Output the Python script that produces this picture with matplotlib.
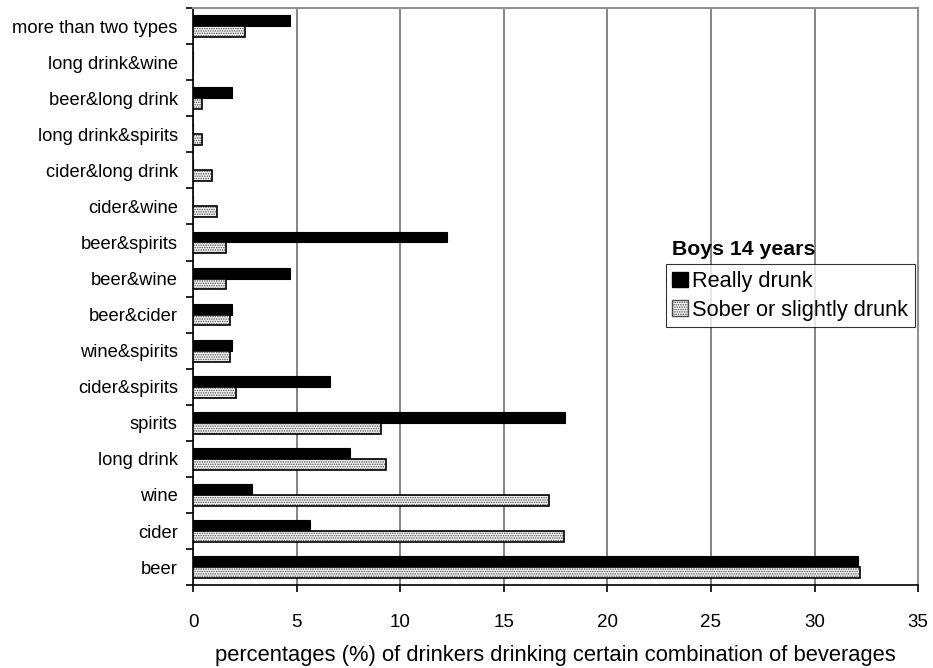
import matplotlib
matplotlib.use("Agg")
import matplotlib.pyplot as plt
from matplotlib.patches import Patch
import numpy as np

plt.rcParams['font.family'] = ['Liberation Sans', 'DejaVu Sans']

categories = ["beer", "cider", "wine", "long drink", "spirits", "cider&spirits",
              "wine&spirits", "beer&cider", "beer&wine", "beer&spirits",
              "cider&wine", "cider&long drink", "long drink&spirits",
              "beer&long drink", "long drink&wine", "more than two types"]
really_drunk = [32.1, 5.65, 2.85, 7.55, 17.95, 6.6, 1.9, 1.9, 4.7, 12.25,
                0, 0, 0, 1.9, 0, 4.7]
sober = [32.2, 17.9, 17.2, 9.3, 9.05, 2.05, 1.8, 1.8, 1.6, 1.6,
         1.15, 0.9, 0.45, 0.45, 0, 2.5]
xticks = [0, 5, 10, 15, 20, 25, 30, 35]

fig = plt.figure(figsize=(9.33, 6.68), dpi=100)
ax = fig.add_axes([0.207, 0.124, 0.777, 0.864])

y = np.arange(len(categories))
h = 0.3
ax.barh(y + h / 2, really_drunk, height=h, color='black', edgecolor='black', linewidth=0.8, zorder=3)
plt.rcParams['hatch.linewidth'] = 0.7
ax.barh(y - h / 2, sober, height=h, color='#f4f4f4', edgecolor='#4a4a4a', hatch='.......', linewidth=0, zorder=3)
ax.barh(y - h / 2, sober, height=h, fill=False, edgecolor='black', linewidth=1.2, zorder=4)

ax.set_xlim(0, 35)
ax.set_ylim(-0.5, len(categories) - 0.5)
ax.set_xticks(xticks)
ax.set_xticklabels([str(t) for t in xticks], fontsize=13.5)
ax.set_yticks(y)
ax.set_yticklabels(categories, fontsize=13.2)
ax.set_yticks(np.arange(len(categories) + 1) - 0.5, minor=True)
ax.tick_params(axis='y', which='major', length=0, pad=11)
ax.tick_params(axis='y', which='minor', length=5, width=1.2, direction='out')
ax.tick_params(axis='x', which='major', length=5, width=1.2, direction='out', pad=16)
ax.xaxis.grid(True, color='#707070', linewidth=1.2, zorder=0)
ax.set_axisbelow(True)
for s in ['top', 'right']:
    ax.spines[s].set_color('#909090')
    ax.spines[s].set_linewidth(1.5)
for s in ['left', 'bottom']:
    ax.spines[s].set_color('black')
    ax.spines[s].set_linewidth(1.2)

fig.text(555.5 / 933, 1 - 661 / 668,
         "percentages (%) of drinkers drinking certain combination of beverages",
         fontsize=15.8, ha='center', va='baseline')

handles = [Patch(facecolor='black', edgecolor='black', label='Really drunk'),
           Patch(facecolor='#f4f4f4', edgecolor='#4a4a4a', hatch='.......', label='Sober or slightly drunk')]
leg = ax.legend(handles=handles, loc='upper left', bbox_to_anchor=(0.652, 0.5558),
                fontsize=15.7, frameon=True, fancybox=False, edgecolor='black',
                handlelength=0.7, handleheight=0.7, handletextpad=0.2,
                borderpad=0.3, labelspacing=0.35, borderaxespad=0)
leg.get_frame().set_linewidth(0.8)
ax.text(0.6607, 0.5719, "Boys 14 years", transform=ax.transAxes, fontsize=15.3,
        fontweight='bold', va='baseline', ha='left')

fig.savefig("out.png", dpi=100)
